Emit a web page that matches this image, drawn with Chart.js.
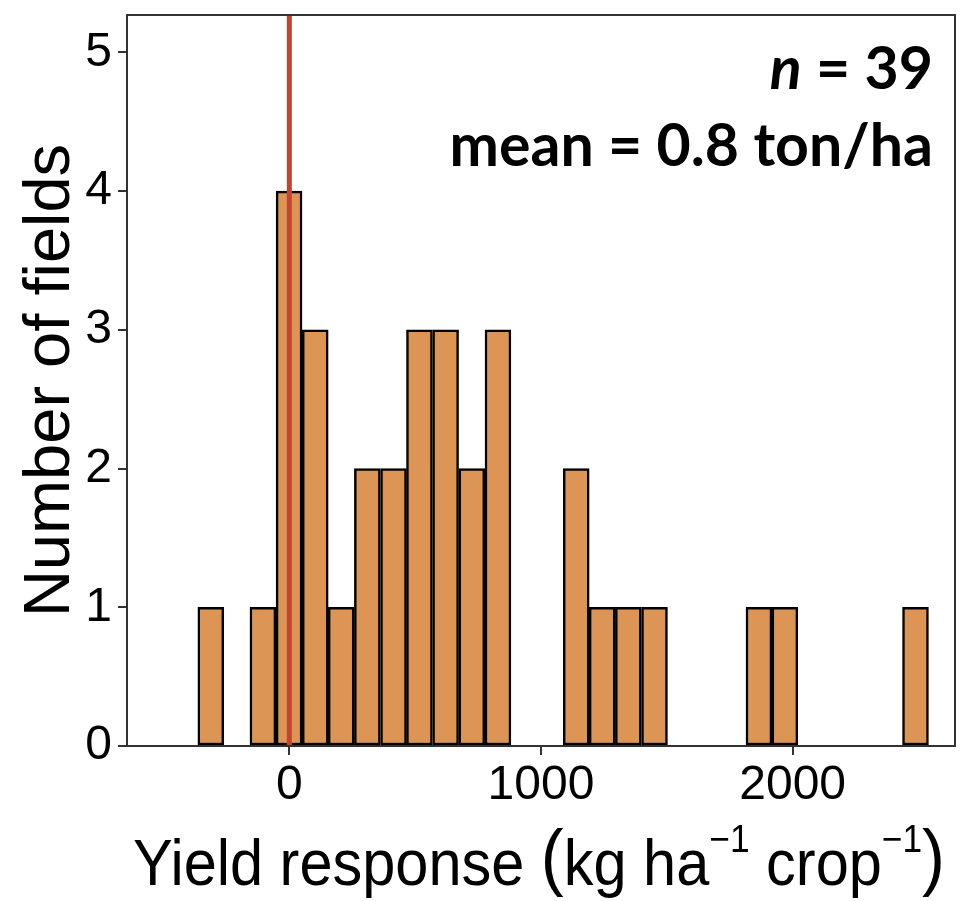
<!DOCTYPE html>
<html>
<head>
<meta charset="utf-8">
<script src="https://cdn.jsdelivr.net/npm/chart.js@4.4.1/dist/chart.umd.min.js"></script>
<style>
  html, body { margin: 0; padding: 0; background: #fff; }
  #wrap { width: 966px; height: 901px; position: relative; }
</style>
</head>
<body>
<div id="wrap"><canvas id="histChart"></canvas></div>
<script>
// histogram bins (centre of each bin, kg/ha) and counts
const binCenters = [-312, -208, -105, -1, 103, 206, 310, 414, 517, 621, 725, 829, 932, 1036,
                    1140, 1243, 1347, 1451, 1554, 1658, 1762, 1866, 1969, 2073, 2177, 2280, 2384, 2488];
const fieldCounts = [1, 0, 1, 4, 3, 1, 2, 2, 3, 3, 2, 3, 0, 0,
                     2, 1, 1, 1, 0, 0, 0, 1, 1, 0, 0, 0, 0, 1];

const xTickValues = [0, 1000, 2000];
const yTickValues = [0, 1, 2, 3, 4, 5];

// red reference line at zero response
const zeroLineX = [0, 0];
const zeroLineY = [0, 5.27];

const annotationN = '39';
const annotationMean = 'mean = 0.8 ton/ha';

const FONT = "'Liberation Sans', Arial, sans-serif";
const BOLD = "Lato, 'Open Sans', sans-serif";

// frame around the plot (top + right sides, axes give the rest)
const frameBox = {
  id: 'frameBox',
  afterDatasetsDraw(chart) {
    const { ctx, chartArea: a } = chart;
    ctx.save();
    ctx.strokeStyle = '#333';
    ctx.lineWidth = 2;
    ctx.strokeRect(a.left, a.top, a.right - a.left, a.bottom - a.top);
    ctx.restore();
  }
};

// n / mean text in the top right corner
const cornerText = {
  id: 'cornerText',
  afterDraw(chart) {
    const { ctx } = chart;
    const right = 933;
    ctx.save();
    ctx.fillStyle = '#000';
    ctx.textBaseline = 'alphabetic';
    ctx.textAlign = 'left';
    const rest = ' = ' + annotationN;
    ctx.font = 'bold 59px ' + BOLD;
    const wRest = ctx.measureText(rest).width;
    ctx.font = 'italic bold 59px ' + BOLD;
    const wN = ctx.measureText('n').width;
    ctx.fillText('n', right - wRest - wN, 89);
    ctx.font = 'bold 59px ' + BOLD;
    ctx.fillText(rest, right - wRest, 89);
    ctx.textAlign = 'right';
    ctx.fillText(annotationMean, right, 166);
    ctx.restore();
  }
};

// x axis title with superscripts, slightly condensed like the original
const xTitle = {
  id: 'xTitle',
  afterDraw(chart) {
    const { ctx } = chart;
    const parts = [
      { t: 'Yield response ', k: 'txt' },
      { t: '(', k: 'par' },
      { t: 'kg ha', k: 'txt' },
      { t: '\u22121', k: 'sup' },
      { t: ' crop', k: 'txt' },
      { t: '\u22121', k: 'sup' },
      { t: ')', k: 'par' }
    ];
    const fonts = { txt: '64px ' + FONT, sup: '38px ' + FONT, par: '74px ' + FONT };
    const dy = { txt: 885, sup: 852, par: 882 };
    const left = 133, right = 945;
    ctx.save();
    let total = 0;
    for (const p of parts) { ctx.font = fonts[p.k]; total += ctx.measureText(p.t).width; }
    const sx = (right - left) / total;
    ctx.translate(left, 0);
    ctx.scale(sx, 1);
    ctx.fillStyle = '#000';
    ctx.textBaseline = 'alphabetic';
    let x = 0;
    for (const p of parts) {
      ctx.font = fonts[p.k];
      ctx.fillText(p.t, x, dy[p.k]);
      x += ctx.measureText(p.t).width;
    }
    ctx.restore();
  }
};

const histData = binCenters.map((c, i) => ({ x: c, y: fieldCounts[i] }));
const lineData = zeroLineX.map((v, i) => ({ x: v, y: zeroLineY[i] }));

new Chart(document.getElementById('histChart'), {
  type: 'bar',
  data: {
    datasets: [
      {
        type: 'line',
        data: lineData,
        borderColor: '#C1462F',
        borderWidth: 5,
        pointRadius: 0,
        order: 0
      },
      {
        type: 'bar',
        data: histData,
        backgroundColor: '#DD9555',
        borderColor: '#000',
        borderWidth: ctx => (ctx.raw && ctx.raw.y > 0 ? 2.5 : 0),
        borderSkipped: false,
        barPercentage: 1,
        categoryPercentage: 1,
        order: 1
      }
    ]
  },
  options: {
    responsive: true,
    maintainAspectRatio: false,
    animation: false,
    devicePixelRatio: 1,
    layout: { padding: { left: 0, right: 11, top: 15, bottom: 0 } },
    plugins: { legend: { display: false }, tooltip: { enabled: false } },
    scales: {
      x: {
        type: 'linear',
        min: -645,
        max: 2645,
        offset: false,
        grid: { drawOnChartArea: false, drawTicks: true, tickLength: 9, color: '#333', lineWidth: 2, offset: false },
        border: { display: true, color: '#333', width: 2 },
        ticks: {
          font: { family: FONT, size: 48 }, color: '#000', padding: 2, maxRotation: 0, autoSkip: false,
          callback: v => String(v)
        },
        afterBuildTicks: s => { s.ticks = xTickValues.map(v => ({ value: v })); },
        afterFit: s => { s.height = 155; s.paddingLeft = 0; s.paddingRight = 0; }
      },
      y: {
        min: 0,
        max: 5.27,
        grid: { drawOnChartArea: false, drawTicks: true, tickLength: 9, color: '#333', lineWidth: 2 },
        border: { display: true, color: '#333', width: 2 },
        ticks: { font: { family: FONT, size: 48 }, color: '#000', padding: 6, callback: v => String(v) },
        afterBuildTicks: s => { s.ticks = yTickValues.map(v => ({ value: v })); },
        afterFit: s => { s.width = 127; s.paddingTop = 0; s.paddingBottom = 0; },
        title: { display: true, text: 'Number of fields', font: { family: FONT, size: 65 }, color: '#000', padding: { top: 12, bottom: 0 } }
      }
    }
  },
  plugins: [frameBox, cornerText, xTitle]
});
</script>
</body>
</html>
